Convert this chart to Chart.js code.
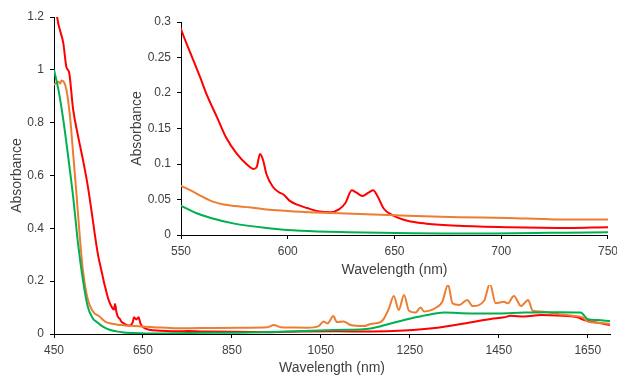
<!DOCTYPE html>
<html>
<head>
<meta charset="utf-8">
<script src="https://cdn.jsdelivr.net/npm/chart.js@4.4.0/dist/chart.umd.min.js"></script>
<style>
  html, body { margin:0; padding:0; background:#fff; overflow:hidden; }
  #wrap { position:relative; width:617px; height:375px; overflow:hidden; }
  #mainChart { position:absolute; left:0; top:0; }
  #insetChart { position:absolute; left:120px; top:8px; background:#fff; }
</style>
</head>
<body>
<div id="wrap">
  <canvas id="mainChart" width="617" height="375"></canvas>
  <canvas id="insetChart" width="503" height="277"></canvas>
</div>
<script>
// ----- data: [wavelength nm, absorbance] -----
const redSeries = [
  [450,1.32],[457,1.2],[471,1.10],[478,1.01],[484,0.99],[493,0.85],[504,0.75],[515,0.66],
  [526,0.56],[534,0.47],[545,0.34],[550,0.29],[555,0.252],[559,0.222],[562,0.198],[567,0.165],
  [571,0.138],[576,0.115],[581,0.099],[584,0.093],[585.5,0.096],[587,0.114],[588.5,0.105],
  [590,0.086],[593,0.068],[596,0.06],[598,0.057],[601,0.048],[605,0.042],[609,0.038],
  [615,0.033],[620,0.032],[624,0.036],[627,0.045],[630,0.063],[632,0.06],[635,0.055],
  [638,0.06],[640,0.063],[642,0.055],[645,0.037],[649,0.028],[656,0.02],[665,0.016],
  [680,0.013],[703,0.011],[734,0.010],[750,0.011],[800,0.009],[940,0.007],[1000,0.009],
  [1085,0.010],[1162,0.009],[1237,0.013],[1312,0.024],[1372,0.040],[1432,0.057],[1462,0.063],
  [1477,0.069],[1507,0.066],[1545,0.072],[1582,0.070],[1627,0.063],[1642,0.053],[1672,0.043],
  [1700,0.034]
];
const orangeSeries = [
  [450,0.943],[455,0.95],[460,0.955],[464,0.948],[467,0.96],[472,0.955],[478,0.924],[486,0.823],
  [493,0.684],[501,0.52],[508,0.368],[515,0.242],[523,0.154],[530,0.11],[540,0.08],[550,0.069],
  [555,0.062],[560,0.054],[565,0.047],[570,0.043],[575,0.041],[582,0.039],[590,0.036],[599,0.034],
  [610,0.032],[621,0.031],[640,0.029],[656,0.027],[680,0.025],[703,0.024],[725,0.022],[750,0.022],
  [800,0.023],[869,0.024],[930,0.026],[944,0.034],[960,0.026],[981,0.025],[1019,0.024],[1045,0.03],
  [1056,0.047],[1065,0.04],[1078,0.068],[1086,0.045],[1101,0.047],[1117,0.034],[1146,0.03],
  [1162,0.038],[1184,0.045],[1192,0.059],[1203,0.097],[1214,0.144],[1225,0.091],[1237,0.148],
  [1248,0.088],[1263,0.081],[1274,0.10],[1282,0.085],[1312,0.103],[1323,0.122],[1336,0.186],
  [1346,0.116],[1361,0.11],[1379,0.129],[1391,0.106],[1417,0.126],[1430,0.19],[1443,0.116],
  [1462,0.122],[1470,0.116],[1484,0.144],[1500,0.106],[1516,0.129],[1526,0.088],[1545,0.085],
  [1582,0.076],[1620,0.068],[1638,0.063],[1650,0.047],[1672,0.043],[1700,0.038]
];
const greenSeries = [
  [450,1.0],[460,0.924],[471,0.81],[482,0.67],[493,0.52],[504,0.343],[515,0.205],[526,0.103],
  [537,0.06],[544,0.048],[550,0.041],[557,0.031],[564,0.024],[575,0.016],[590,0.010],[606,0.006],
  [628,0.004],[686,0.002],[750,0.004],[865,0.005],[977,0.009],[1085,0.015],[1162,0.021],
  [1207,0.04],[1252,0.059],[1289,0.072],[1327,0.081],[1387,0.078],[1447,0.078],[1507,0.081],
  [1582,0.082],[1634,0.081],[1650,0.056],[1672,0.053],[1700,0.048]
];

const mainXTicks = [450,650,850,1050,1250,1450,1650];
const mainYTicks = [0,0.2,0.4,0.6,0.8,1,1.2];
const insetXTicks = [550,600,650,700,750];
const insetYTicks = [0,0.05,0.1,0.15,0.2,0.25,0.3];

const RED = "#ff0000", ORANGE = "#ed7d31", GREEN = "#00b050";
const FONT = "'Liberation Sans', Arial, sans-serif";
const TEXT = "#404040";

function toPts(arr){ return arr.map(p=>({x:p[0], y:p[1]})); }

function makeDatasets(lw){
  return [
    {data:toPts(greenSeries), borderColor:GREEN, borderWidth:lw},
    {data:toPts(orangeSeries), borderColor:ORANGE, borderWidth:lw},
    {data:toPts(redSeries), borderColor:RED, borderWidth:lw}
  ].map(d=>Object.assign(d,{pointRadius:0, fill:false, cubicInterpolationMode:"monotone"}));
}

function axis(opts){
  return {
    type:"linear", min:opts.min, max:opts.max,
    afterBuildTicks: s => { s.ticks = opts.ticks.map(v=>({value:v})); },
    afterFit: s => { if(opts.w) s.width = opts.w; if(opts.h) s.height = opts.h; },
    grid:{display:true, drawOnChartArea:false, drawTicks:true, tickLength:4, color:"#000"},
    border:{display:true, color:"#000", width:1},
    ticks:{color:TEXT, font:{family:FONT, size:12}, padding:opts.pad, maxRotation:0, autoSkip:false,
           callback: v => String(v)},
    title:{display:true, text:opts.title, color:TEXT, font:{family:FONT, size:14, lineHeight:1}, padding:opts.tpad}
  };
}

// ----- main chart -----
new Chart(document.getElementById("mainChart").getContext("2d"), {
  type:"line",
  data:{datasets:makeDatasets(2)},
  options:{
    responsive:false, animation:false,
    layout:{padding:{top:17, right:7, left:0, bottom:0}},
    plugins:{legend:{display:false}, tooltip:{enabled:false}},
    scales:{
      x:axis({min:450, max:1700, ticks:mainXTicks, h:41, pad:5, title:"Wavelength (nm)", tpad:{top:0,bottom:0}}),
      y:axis({min:0, max:1.2, ticks:mainYTicks, w:54, pad:6, title:"Absorbance", tpad:{top:10,bottom:0}})
    }
  }
});

// ----- inset chart -----
new Chart(document.getElementById("insetChart").getContext("2d"), {
  type:"line",
  data:{datasets:makeDatasets(2)},
  options:{
    responsive:false, animation:false,
    layout:{padding:{top:14, right:0, left:0, bottom:0}},
    plugins:{legend:{display:false}, tooltip:{enabled:false}},
    scales:{
      x:axis({min:550, max:750, ticks:insetXTicks, h:50, pad:5, title:"Wavelength (nm)", tpad:{top:0,bottom:8}}),
      y:axis({min:0, max:0.3, ticks:insetYTicks, w:61, pad:6, title:"Absorbance", tpad:{top:10,bottom:0}})
    }
  }
});
</script>
</body>
</html>
